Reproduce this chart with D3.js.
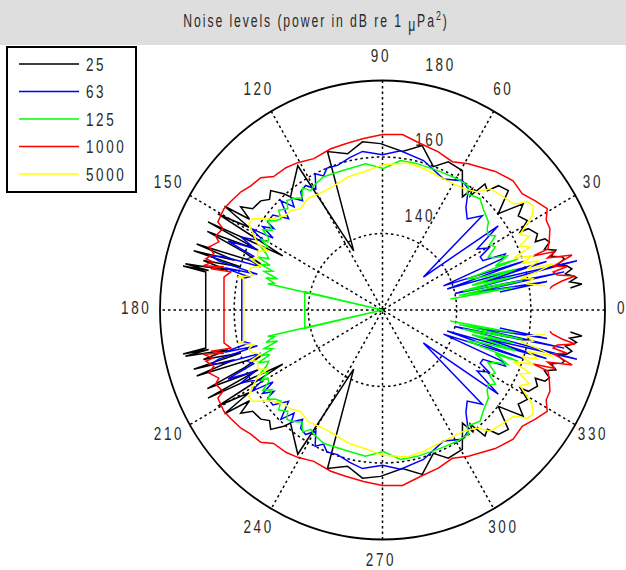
<!DOCTYPE html>
<html>
<head>
<meta charset="utf-8">
<script src="https://cdn.jsdelivr.net/npm/d3@7"></script>
<style>
  body { margin: 0; background: #ffffff; }
  svg text { font-family: "Liberation Sans", Arial, Helvetica, sans-serif; fill: #2a2a2a; }
</style>
</head>
<body>
<svg id="chart" width="626" height="570"></svg>
<script>
// Third-octave band centre frequencies (Hz) and their line colours
const bands = ["25", "63", "125", "1000", "5000"];
const bandColors = ["#000000", "#0000ff", "#00ff00", "#ff0000", "#ffff00"];

// Polar grid ticks
const angleTicks = [0, 30, 60, 90, 120, 150, 180, 210, 240, 270, 300, 330];
const ringTicks = [140, 160, 180];
const levelMin = 120, levelMax = 180;

// Received level [aspect angle (deg), dB re 1 uPa^2] along the port side, 0-180 deg.
// The starboard side (180-360 deg) is the reflection of these readings.
const level25 = [
  [6.5,171],[7.2,174.2],[8.3,171],[9.2,173],[9.8,172.2],[10.8,170.2],[11.9,172.2],[13,171.1],
  [14.2,168.8],[15.2,170.8],[16,170.4],[17.2,167.6],[18.5,169.3],[20,166.5],[21.5,168.4],[23,167.6],
  [23.4,164.9],[25.5,166.3],[28.4,164.7],[28.8,162.4],[30.9,165.5],[33.9,164.1],[36.2,167],[38.9,160.1],
  [40.5,162.5],[42.6,166.1],[46.1,165.1],[47.8,162.1],[50,163],[51.6,158.1],[52.6,159.9],[53.9,156.6],
  [59.4,162.3],[65.4,162.6],[69.9,159.9],[76,164.3],[82.6,161.8],[90.7,163.5],[97,164.3],[103,161.9],
  [109.7,164],[116.7,137.3],[121.2,164.1],[130,158.6],[131.2,160.4],[134,163.4],[136.5,162],[139,163.5],
  [142.9,163.9],[144.8,166.8],[146.5,163],[147.5,170.5],[149,162],[150.5,171],[152.2,150.4],[153.9,172.4],
  [155,157],[156.5,171.5],[158,160],[159.8,155],[161,173],[162,162],[163.1,173.2],[163.6,159.8],
  [165,170],[166,163],[167.2,174.5],[167.6,168],[167.9,175],[168.2,168.7]
];
const level63 = [
  [8.5,152],[9.5,165],[10.5,145],[11.5,170],[12.5,140],[13.8,174],[15,148],[16,166],
  [17.5,138.3],[18.5,160],[21,137.6],[22.5,155],[23.9,156.2],[25.5,150],[27.8,149.8],[29.5,153],
  [32,150.1],[35.2,158.2],[38,134],[42.5,156.5],[46.2,153],[50,155],[53.8,159.2],[57.5,160.1],
  [64.4,158],[74.2,160.6],[83.3,161.9],[90,160.6],[97.4,161.8],[102.5,160.8],[107.8,159.7],[112,160],
  [114.4,158.5],[117,160],[119.6,156.4],[122.5,158.6],[125.5,158],[127,155.8],[130,158.3],[131.5,156],
  [133.8,159.6],[136.7,154.8],[140,158.6],[143.4,158.6],[144,156.2],[146,159],[147.5,155],[149,161.4],
  [150.5,157],[152.4,160.1],[153.4,162.7],[155,158],[156.6,165.4],[158,157.5],[159.8,158.7],[161,154.7],
  [162,165],[163,168.4],[163.8,166],[164.5,155],[165.5,164],[166.5,157],[167.9,158.8]
];
const level125 = [
  [8.9,138.5],[9.5,156],[10.5,141],[11.5,158.5],[12.9,142.3],[13.8,156.3],[15,145],[16.5,157.5],
  [18,147],[19.5,144.3],[20.1,158.9],[20.7,152.5],[22.8,156.5],[24.5,153],[25.9,151.7],[28.5,154.6],
  [30.5,153.5],[32.5,156.1],[34.5,154.5],[36.9,155.3],[38.9,156.7],[44.2,157.9],[47.8,159.2],[53.1,158],
  [54.5,159.9],[59.6,159.8],[66.7,159.4],[76.2,159.4],[82.9,159.4],[89.6,157],[96.8,158.5],[106.4,158],
  [114.5,158.3],[119.7,157.4],[121.8,156.7],[124,158.5],[126.5,156.5],[129.4,157.7],[132,158.5],[134,156.8],
  [137,158.3],[139,156.3],[141,157.1],[143,158.8],[145,156.3],[147,158.5],[148.5,156],[150.1,155.7],
  [150.5,157.7],[152,155],[153.5,156.5],[155,154.5],[156.4,153.5],[157.6,156.4],[159,152.5],[160,155],
  [161,151.3],[162.5,153.5],[164,149.4],[165,152.5],[166.5,150],[167.5,151.7],[167.4,120],[167.2,141.5]
];
const level1000 = [
  [7,165.5],[7.8,166.2],[8.9,169],[9.7,172.7],[11,168],[12.2,167.1],[12.8,171],[14,167.5],
  [14.8,170.1],[15.7,173.1],[17,166.5],[18.2,169],[19.2,163],[19.7,167.4],[22,168.5],[25.2,169.9],
  [28,170],[30.8,171.7],[34.7,170.1],[38.9,168.4],[43.8,168.8],[50,167.3],[58.8,164.7],[64.1,163.1],
  [70,164],[76.8,164.7],[83.3,166.2],[90,165.9],[96.5,165.1],[102.9,164.6],[108.3,164.4],[115.1,163.7],
  [120.7,164.8],[125,165.4],[130.1,165.6],[133.5,167.7],[137.6,168.1],[141,169.1],[145.3,169.8],[148.3,170.3],
  [152.6,170],[153.7,168],[156.7,169],[158,167.6],[160.6,169.6],[162.1,167.8],[164.3,169.5],[164.6,167.4],
  [166.6,169.8],[165.2,164.2],[166.9,167.5],[166.3,162.1],[168.6,163.6]
];
const level5000 = [
  [8.2,164.3],[9.9,159.6],[11.3,161.4],[12.5,158],[13.5,163],[14.7,167.6],[15.4,160.4],[17,164],
  [18,159.5],[19.3,162.8],[21,158],[22.5,163],[24.3,160.7],[26,164],[28,162],[31.4,167.3],
  [33.8,168.9],[36,168.2],[38,165],[42.2,164],[47.5,163],[50.5,160],[55.5,158.5],[64.4,158],
  [73.4,158.6],[80,159],[89.6,158],[96.3,156.7],[104.7,156],[110.2,155.2],[116.2,154.8],[124.7,155.4],
  [129.8,154.5],[133.7,155.9],[137,156],[141.7,158.4],[145.7,162.3],[148,162.5],[150.8,159.7],[152.8,157.8],
  [153.4,154.6],[155.5,157],[158.3,156.2],[159.5,158],[160.7,154.8],[162.5,157],[164.2,157.5],[165.5,156],
  [167.4,159.7],[167.8,158.3]
];
const bandLevels = [level25, level63, level125, level1000, level5000];

// ---- layout ----
const svg = d3.select("#chart");
const W = 626;
const cx = 382.5, cy = 310, RX = 222.5, RY = 229.5;
const squeeze = 0.75;   // tall, narrow lettering

const rX = d3.scaleLinear().domain([levelMin, levelMax]).range([0, RX]).clamp(true);
const rY = d3.scaleLinear().domain([levelMin, levelMax]).range([0, RY]).clamp(true);
const rad = d3.scaleLinear().domain([0, 360]).range([0, 2 * Math.PI]);

const px = (a, v) => cx + rX(v) * Math.cos(rad(a));
const py = (a, v) => cy - rY(v) * Math.sin(rad(a));
const place = (x, y, s = squeeze) => `translate(${x},${y}) scale(${s},1)`;

// title band
svg.append("rect").attr("x", 0).attr("y", 0).attr("width", W).attr("height", 45).attr("fill", "#dedede");
const title = svg.append("text")
  .attr("transform", place(316, 27, 0.68)).attr("text-anchor", "middle")
  .attr("font-size", 18).attr("letter-spacing", 2.8);
title.append("tspan").text("Noise levels (power in dB re 1 ");
title.append("tspan").attr("dy", 4).text("\u03bc");
title.append("tspan").attr("dy", -4).text("Pa");
title.append("tspan").attr("dy", -7).attr("font-size", 13).text("2");
title.append("tspan").attr("dy", 7).text(")");

// ---- grid ----
const grid = svg.append("g");
grid.selectAll("line.spoke")
  .data(angleTicks.filter(a => a < 180))
  .join("line")
  .attr("x1", a => px(a, levelMax)).attr("y1", a => py(a, levelMax))
  .attr("x2", a => px(a + 180, levelMax)).attr("y2", a => py(a + 180, levelMax))
  .attr("stroke", "#000").attr("stroke-width", 1.5).attr("stroke-dasharray", "2.5,3");

grid.selectAll("ellipse")
  .data(ringTicks)
  .join("ellipse")
  .attr("cx", cx).attr("cy", cy)
  .attr("rx", d => rX(d)).attr("ry", d => rY(d))
  .attr("fill", "none").attr("stroke", "#000")
  .attr("stroke-width", d => d === levelMax ? 1.8 : 1.5)
  .attr("stroke-dasharray", d => d === levelMax ? null : "2.5,3");

// ring labels along the 82 deg ray
grid.selectAll("text.ring")
  .data(ringTicks)
  .join("text")
  .attr("transform", d => place(cx + rX(d) * Math.cos(rad(82)) + 12, cy - rY(d) * Math.sin(rad(82)) - 12))
  .attr("font-size", 18).attr("letter-spacing", 3.5)
  .text(d => d);

// angle labels just outside the outer ring
grid.selectAll("text.ang")
  .data(angleTicks)
  .join("text")
  .attr("transform", a => place(
    Math.min(cx + 1.1 * RX * Math.cos(rad(a)) - 1.5, W - 4),
    cy - 1.1 * RY * Math.sin(rad(a)) + 4))
  .attr("text-anchor", "middle")
  .attr("font-size", 18).attr("letter-spacing", 3.5)
  .text(a => a);

// ---- level traces ----
const line = d3.line().x(d => px(d[0], d[1])).y(d => py(d[0], d[1]));
const traces = svg.append("g");
bandLevels.forEach((half, i) => {
  const mirrored = half.slice().reverse().map(([a, v]) => [360 - a, v]);
  traces.append("path")
    .datum(half.concat(mirrored))
    .attr("d", line)
    .attr("fill", "none")
    .attr("stroke", bandColors[i])
    .attr("stroke-width", 1.5)
    .attr("stroke-linejoin", "miter");
});

// ---- legend ----
const legend = svg.append("g");
legend.append("rect").attr("x", 7).attr("y", 47).attr("width", 129).attr("height", 145)
  .attr("fill", "#fff").attr("stroke", "#000").attr("stroke-width", 2);
const ly = d3.scalePoint().domain(bands).range([64, 174]);
legend.selectAll("line")
  .data(bands)
  .join("line")
  .attr("x1", 19).attr("x2", 79)
  .attr("y1", d => ly(d)).attr("y2", d => ly(d))
  .attr("stroke", (d, i) => bandColors[i]).attr("stroke-width", 1.5);
legend.selectAll("text")
  .data(bands)
  .join("text")
  .attr("transform", d => place(86, ly(d) + 6.5))
  .attr("font-size", 18).attr("letter-spacing", 3.5)
  .text(d => d);
</script>
</body>
</html>
